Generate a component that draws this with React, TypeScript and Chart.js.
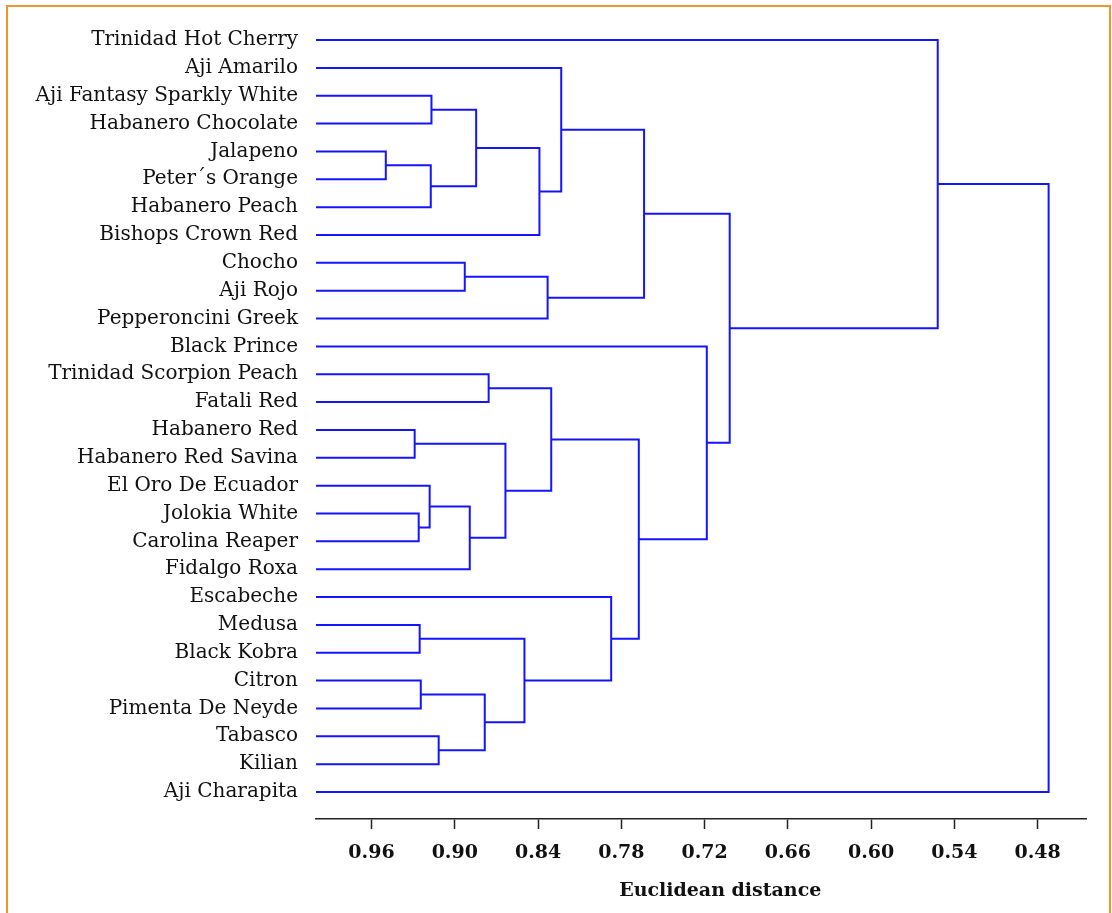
import React, { useEffect, useRef } from "react";
import { Chart, registerables } from "chart.js";

Chart.register(...registerables);

const LEAVES: string[] = [
  "Trinidad Hot Cherry",
  "Aji Amarilo",
  "Aji Fantasy Sparkly White",
  "Habanero Chocolate",
  "Jalapeno",
  "Peter´s Orange",
  "Habanero Peach",
  "Bishops Crown Red",
  "Chocho",
  "Aji Rojo",
  "Pepperoncini Greek",
  "Black Prince",
  "Trinidad Scorpion Peach",
  "Fatali Red",
  "Habanero Red",
  "Habanero Red Savina",
  "El Oro De Ecuador",
  "Jolokia White",
  "Carolina Reaper",
  "Fidalgo Roxa",
  "Escabeche",
  "Medusa",
  "Black Kobra",
  "Citron",
  "Pimenta De Neyde",
  "Tabasco",
  "Kilian",
  "Aji Charapita",
];

// Linkage: node ids 0..27 are leaves, merge k creates node 28 + k
const MERGE_LEFT: number[] = [4, 17, 21, 23, 14, 16, 2, 28, 25, 8, 33, 34, 31, 12, 32, 30, 39, 37, 41, 1, 20, 47, 46, 11, 49, 0, 53];
const MERGE_RIGHT: number[] = [5, 18, 22, 24, 15, 29, 3, 6, 26, 9, 19, 35, 36, 13, 38, 40, 7, 10, 42, 44, 43, 45, 48, 50, 51, 52, 27];
const MERGE_HEIGHT: number[] = [
  0.9497, 0.926, 0.9253, 0.9245, 0.9289, 0.9181, 0.9168, 0.9173, 0.9116, 0.8928, 0.8892, 0.8846, 0.8784, 0.8756,
  0.8635, 0.8498, 0.839, 0.8331, 0.8305, 0.8233, 0.7873, 0.7636, 0.7674, 0.7184, 0.7019, 0.552, 0.4721,
];

const X_TICKS: number[] = [0.96, 0.9, 0.84, 0.78, 0.72, 0.66, 0.6, 0.54, 0.48];
const X_MIN = 0.4448;
const X_MAX = 1.0;
const X_TITLE = "Euclidean distance";

const LINE_COLOR = "#1414ff";
const SERIF = "'DejaVu Serif', 'Liberation Serif', serif";

function buildDatasets() {
  const n = LEAVES.length;
  const nodeY: number[] = [];
  const nodeH: number[] = [];
  for (let i = 0; i < n; i++) {
    nodeY.push(i);
    nodeH.push(X_MAX);
  }
  const datasets: any[] = [];
  for (let k = 0; k < MERGE_HEIGHT.length; k++) {
    const a = MERGE_LEFT[k];
    const b = MERGE_RIGHT[k];
    const h = MERGE_HEIGHT[k];
    nodeY.push((nodeY[a] + nodeY[b]) / 2);
    nodeH.push(h);
    datasets.push({
      data: [
        { x: nodeH[a], y: nodeY[a] },
        { x: h, y: nodeY[a] },
        { x: h, y: nodeY[b] },
        { x: nodeH[b], y: nodeY[b] },
      ],
      showLine: true,
      borderColor: LINE_COLOR,
      backgroundColor: LINE_COLOR,
      borderWidth: 2,
      pointRadius: 0,
      pointHoverRadius: 0,
      fill: false,
      tension: 0,
      borderJoinStyle: "miter",
    });
  }
  return datasets;
}

const titlePlugin = {
  id: "xTitle",
  afterDraw(chart: any) {
    const { ctx, chartArea } = chart;
    ctx.save();
    ctx.font = `bold 19px ${SERIF}`;
    ctx.fillStyle = "#111";
    ctx.textAlign = "center";
    ctx.textBaseline = "middle";
    ctx.fillText(X_TITLE, (chartArea.left + chartArea.right) / 2 + 19, chartArea.bottom + 72);
    ctx.restore();
  },
};

export default function App() {
  const ref = useRef<HTMLCanvasElement | null>(null);
  useEffect(() => {
    if (!ref.current) return;
    const chart = new Chart(ref.current, {
      type: "scatter",
      data: { datasets: buildDatasets() },
      plugins: [titlePlugin],
      options: {
        animation: false,
        responsive: false,
        devicePixelRatio: 1,
        layout: { padding: { top: 21, right: 25.5, left: 0, bottom: 0 } },
        plugins: { legend: { display: false }, tooltip: { enabled: false } },
        scales: {
          x: {
            type: "linear",
            reverse: true,
            min: X_MIN,
            max: X_MAX,
            afterBuildTicks: (scale: any) => {
              scale.ticks = X_TICKS.map((v) => ({ value: v }));
            },
            afterFit: (scale: any) => {
              scale.height = 94;
            },
            grid: {
              display: true,
              drawOnChartArea: false,
              drawTicks: true,
              tickLength: 10,
              tickWidth: 1.5,
              tickColor: "#222",
            },
            border: { display: true, color: "#222", width: 1.5 },
            ticks: {
              color: "#111",
              font: { family: SERIF, size: 19, weight: "bold" },
              padding: 13,
              maxRotation: 0,
              autoSkip: false,
              callback: (v: any) => Number(v).toFixed(2),
            },
          },
          y: {
            type: "linear",
            reverse: true,
            min: -0.36,
            max: 27.97,
            afterBuildTicks: (scale: any) => {
              scale.ticks = LEAVES.map((_, i) => ({ value: i }));
            },
            afterFit: (scale: any) => {
              scale.width = 316;
            },
            grid: { display: false, drawTicks: false },
            border: { display: false },
            ticks: {
              color: "#111",
              font: { family: SERIF, size: 20 },
              padding: 18,
              autoSkip: false,
              callback: (v: any) => LEAVES[Math.round(Number(v))] ?? "",
            },
          },
        },
      },
    });
    return () => chart.destroy();
  }, []);

  return (
    <div style={{ position: "fixed", left: 0, top: 0, width: 1112, height: 913, overflow: "hidden", background: "#fff" }}>
      <div
        style={{
          position: "absolute",
          left: 6,
          top: 5,
          width: 1105,
          height: 1000,
          boxSizing: "border-box",
          border: "2px solid #F0962E",
        }}
      />
      <canvas ref={ref} width={1112} height={913} style={{ position: "absolute", left: 0, top: 0 }} />
    </div>
  );
}
